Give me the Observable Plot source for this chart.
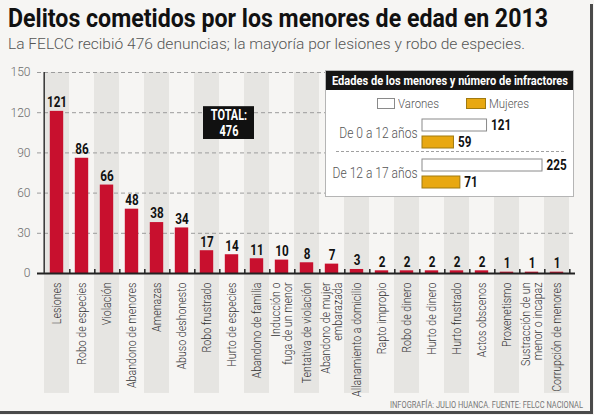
<!DOCTYPE html>
<html><head><meta charset="utf-8">
<script src="https://cdn.jsdelivr.net/npm/d3@7"></script>
<script src="https://cdn.jsdelivr.net/npm/@observablehq/plot@0.6"></script>
<style>
html,body{margin:0;padding:0;}
body{background:#f6f5f3;width:594px;height:415px;overflow:hidden;position:relative;font-family:Roboto,"Liberation Sans",sans-serif;}
.fit{position:absolute;white-space:nowrap;transform-origin:0 0;}
#title{left:8px;top:3px;font-size:26px;font-weight:bold;color:#111;}
#subtitle{left:8px;top:36px;font-size:14.5px;font-weight:300;color:#555;}
#chart{position:absolute;left:0;top:60px;}
#legend{position:absolute;left:325px;top:70px;width:249px;height:127px;background:#fff;border:1px solid #b5b5b5;box-sizing:border-box;}
#legend .head{position:absolute;left:0;top:0;width:247px;height:19px;background:#151515;}
#head{left:6px;top:1px;color:#fff;font-weight:bold;font-size:13.5px;line-height:17px;}
#legend .sw{position:absolute;top:27px;height:11px;box-sizing:border-box;}
#legend .lab{top:24px;font-size:13.5px;font-weight:300;color:#555;}
#legend .sep{position:absolute;left:10px;top:80px;width:228px;border-top:1px dashed #a0a0a0;}
#legend .inner{position:absolute;left:0;top:41px;}
#footer{left:390px;top:400px;font-size:9px;color:#777;}
#frame{position:absolute;left:0;top:4px;width:590px;height:407px;border-right:3px solid #4a4a4a;border-bottom:3px solid #4a4a4a;pointer-events:none;}
</style></head>
<body>
<div id="title" class="fit" data-w="540">Delitos cometidos por los menores de edad en 2013</div>
<div id="subtitle" class="fit" data-w="517">La FELCC recibió 476 denuncias; la mayoría por lesiones y robo de especies.</div>
<div id="chart"></div>
<div id="legend">
  <div class="head"></div>
  <div id="head" class="fit" data-w="236">Edades de los menores y número de infractores</div>
  <div class="sw" style="left:51px;width:18px;background:#fff;border:1px solid #8a8a8a;"></div>
  <div class="lab fit" data-w="41" style="left:72px;">Varones</div>
  <div class="sw" style="left:140px;width:20px;background:#e8a811;border:1px solid #a07a10;"></div>
  <div class="lab fit" data-w="40" style="left:163px;">Mujeres</div>
  <div class="sep"></div>
  <div class="inner" id="inner"></div>
</div>
<div id="footer" class="fit" data-w="193">INFOGRAFÍA: JULIO HUANCA. FUENTE: FELCC NACIONAL</div>
<div id="frame"></div>
<script>
// ---- Data ----
const categories = ["Lesiones","Robo de especies","Violación","Abandono de menores","Amenazas","Abuso deshonesto","Robo frustrado","Hurto de especies","Abandono de familia","Inducción o fuga de un menor","Tentativa de violación","Abandono de mujer embarazada","Allanamiento a domicilio","Rapto impropio","Robo de dinero","Hurto de dinero","Hurto frustrado","Actos obscenos","Proxenetismo","Sustracción de un menor o incapaz","Corrupción de menores"];
const values = [121,86,66,48,38,34,17,14,11,10,8,7,3,2,2,2,2,2,1,1,1];
const tickLabels = ["Lesiones","Robo de especies","Violación","Abandono de menores","Amenazas","Abuso deshonesto","Robo frustrado","Hurto de especies","Abandono de familia","Inducción o\nfuga de un menor","Tentativa de violación","Abandono de mujer\nembarazada","Allanamiento a domicilio","Rapto impropio","Robo de dinero","Hurto de dinero","Hurto frustrado","Actos obscenos","Proxenetismo","Sustracción de un\nmenor o incapaz","Corrupción de menores"];
const yTicks = [0,30,60,90,120,150];
const totalLabel = "TOTAL:";
const ageGroups = ["De 0 a 12 años","De 12 a 17 años"];
const sexes = ["Varones","Mujeres"];
const varones = [121,225];
const mujeres = [59,71];

// ---- helpers ----
function condense(svg, label, s) {
  svg.querySelectorAll(`g[aria-label="${label}"] text`).forEach(t => {
    const tr = t.getAttribute("transform") || "";
    t.setAttribute("transform", tr + ` scale(${s},1)`);
  });
}

// ---- Main chart ----
const W = 594, H = 345, mL = 37, mR = 19, mT = 12, mB = 132;
const step = (W - mL - mR) / categories.length;
const data = categories.map((c,i) => ({cat: c, value: values[i]}));
const stripes = categories.filter((c,i) => i % 2 === 0);
const stripeBottom = -89.5;
const totalAt = [{cat: "Hurto de especies", total: d3.sum(values)}];
const font = 'Roboto,"Liberation Sans",sans-serif';

const chart = Plot.plot({
  width: W, height: H, marginLeft: mL, marginRight: mR, marginTop: mT, marginBottom: mB,
  style: {background: "transparent", fontFamily: font, overflow: "visible"},
  x: {domain: categories, padding: 0, axis: null},
  y: {domain: [0,150], axis: null},
  marks: [
    Plot.barY(stripes, {x: d => d, y1: stripeBottom, y2: 150, fill: "#e6e5e2"}),
    Plot.ruleY(yTicks.slice(1), {stroke: "#9c9c9c", strokeDasharray: "4,3"}),
    Plot.barY(data, {x: "cat", y: "value", fill: "#c8102e", insetLeft: 5.8, insetRight: 5.8}),
    Plot.text(data, {x: "cat", y: "value", text: d => String(d.value), dy: -9, fontWeight: "bold", fontSize: 15, fill: "#111"}),
    Plot.ruleY([0], {stroke: "#222", strokeWidth: 2}),
    Plot.ruleX(categories, {x: d => d, y1: 0, y2: 3, dx: step/2, stroke: "#222", strokeWidth: 1.5}),
    Plot.ruleX([categories[0]], {x: d => d, y1: 0, y2: 150, dx: -step/2, stroke: "#333", strokeWidth: 1.5}),
    Plot.axisY({ticks: yTicks, tickSize: 0, tickPadding: 7, fontSize: 12, fontWeight: 300, color: "#6a6a6a", label: null}),
    Plot.axisX({tickRotate: -90, tickSize: 0, tickPadding: 9, fontSize: 13, fontWeight: 300, color: "#333", label: null,
      tickFormat: d => tickLabels[categories.indexOf(d)], lineHeight: 0.95}),
    Plot.barY(totalAt, {x: "cat", y1: 100, y2: 124.5, fill: "#111", insetLeft: -13, insetRight: -13, dx: -3}),
    Plot.text(totalAt, {x: "cat", y: 112.3, text: d => totalLabel + "\n" + d.total, fill: "#fff", fontWeight: "bold", fontSize: 14, dx: -3, lineHeight: 1.1})
  ]
});
condense(chart, "x-axis tick label", 0.82);
condense(chart, "text", 0.78);
document.getElementById("chart").append(chart);

// ---- Inset chart ----
const ages = ageGroups.flatMap((g,i) => [
  {group: g, sex: "Varones", value: varones[i]},
  {group: g, sex: "Mujeres", value: mujeres[i]}
]);
const inner = Plot.plot({
  width: 247, height: 81, marginLeft: 96, marginRight: 31, marginTop: 0, marginBottom: 0,
  style: {background: "transparent", fontFamily: font, fontSize: "14px", fontWeight: 300, color: "#555", overflow: "visible"},
  x: {domain: [0,225], axis: null},
  y: {domain: sexes, padding: 0.3, axis: null},
  fy: {domain: ageGroups, padding: 0, label: null, tickSize: 0, tickPadding: 5},
  color: {domain: sexes, range: ["#ffffff","#e8a811"]},
  marks: [
    Plot.barX(ages, {fy: "group", y: "sex", x: "value", fill: "sex", stroke: d => d.sex === "Varones" ? "#8a8a8a" : "#a07a10"}),
    Plot.text(ages, {fy: "group", y: "sex", x: "value", text: d => String(d.value), dx: 4, textAnchor: "start", fontWeight: "bold", fontSize: 15, fill: "#111"})
  ]
});
condense(inner, "text", 0.78);
condense(inner, "fy-axis tick label", 0.86);
document.getElementById("inner").append(inner);

// fit HTML texts to their widths in the reference
document.querySelectorAll(".fit").forEach(el => {
  const w = el.getBoundingClientRect().width;
  const target = +el.dataset.w;
  el.style.transform = `scaleX(${target / w})`;
});
</script>
</body></html>
